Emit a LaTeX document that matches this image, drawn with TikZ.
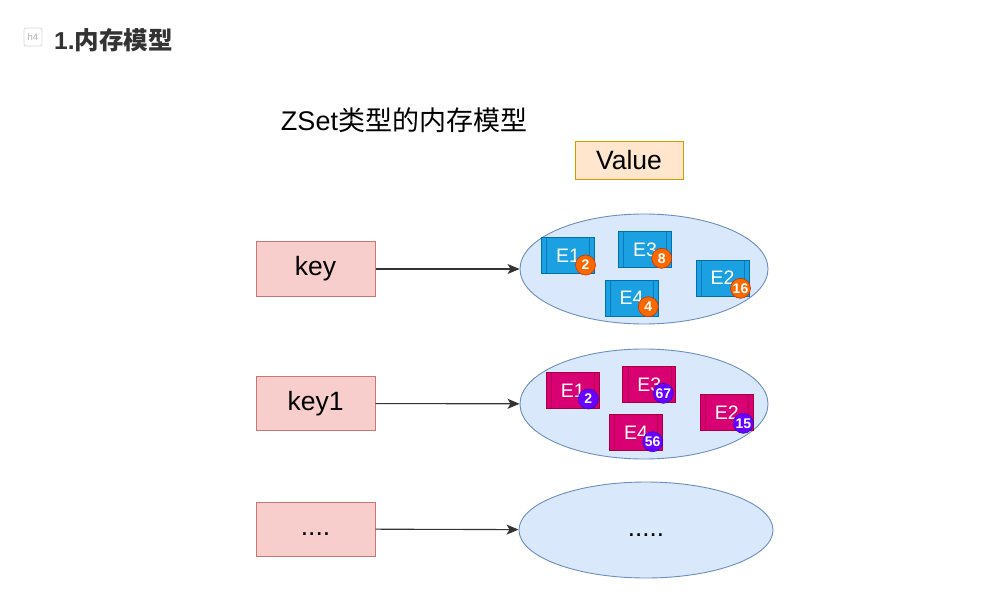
\documentclass[tikz,border=0pt]{standalone}
\usepackage{fontspec}
\setmainfont{Liberation Sans}
\newfontfamily\cjk{Noto Sans CJK SC}
\usetikzlibrary{arrows.meta,shapes.geometric,calc}
\definecolor{keyfill}{HTML}{F8CECC}
\definecolor{keydraw}{HTML}{B85450}
\definecolor{elfill}{HTML}{DAE8FC}
\definecolor{eldraw}{HTML}{6C8EBF}
\definecolor{valfill}{HTML}{FFE6CC}
\definecolor{valdraw}{HTML}{D79B00}
\definecolor{bluefill}{HTML}{1BA1E2}
\definecolor{bluedraw}{HTML}{006EAF}
\definecolor{magfill}{HTML}{D80073}
\definecolor{magdraw}{HTML}{A50040}
\definecolor{orgfill}{HTML}{FA6800}
\definecolor{orgdraw}{HTML}{C73500}
\definecolor{purfill}{HTML}{6A00FF}
\definecolor{purdraw}{HTML}{3700CC}
\definecolor{hdr}{HTML}{333333}
\tikzset{
  keybox/.style={rectangle, draw=keydraw!80, fill=keyfill, line width=1pt, minimum width=119pt, minimum height=54pt, inner sep=0pt, font=\fontsize{26.5}{30}\selectfont},
  setell/.style={ellipse, draw=eldraw, fill=elfill, line width=0.9pt, inner sep=0pt},
  proc/.style={rectangle, draw=#1draw, fill=#1fill, line width=0.7pt, minimum width=53pt, minimum height=36pt, inner sep=0pt, text=white, font=\fontsize{19.5}{21}\selectfont,
    path picture={\draw[#1draw!70!#1fill, line width=0.5pt] ([xshift=5pt]path picture bounding box.north west) -- ([xshift=5pt]path picture bounding box.south west);
      \draw[#1draw!70!#1fill, line width=0.5pt] ([xshift=-5pt]path picture bounding box.north east) -- ([xshift=-5pt]path picture bounding box.south east);}},
  badge/.style={circle, draw=#1draw, fill=#1fill, line width=0.6pt, minimum size=20pt, inner sep=0pt, text=white, font=\fontsize{14}{15}\selectfont\bfseries},
  link/.style={draw=black!80, line width=1.1pt, -{Stealth[length=12pt,width=10pt,inset=3pt]}},
}
\begin{document}
\begin{tikzpicture}[x=1pt,y=-1pt]
\useasboundingbox[fill=white] (0,0) rectangle (982,612);
% header
\node[draw=black!15, fill=white, rounded corners=2pt, line width=0.8pt, minimum width=18pt, minimum height=18pt, inner sep=0pt, text=black!30, font=\fontsize{9.5}{10}\selectfont] (h4) at (33,37) {h4};
\node[anchor=west, inner sep=0pt, text=hdr, font=\fontsize{24.5}{28}\selectfont\bfseries] (hd) at (54,40) {1.{\cjk\bfseries 内存模型}};
% title
\node[inner sep=0pt, font=\fontsize{27}{30}\selectfont] (title) at (404,120) {ZSet{\cjk 类型的内存模型}};
\node[rectangle, draw=valdraw, fill=valfill, line width=0.9pt, minimum width=108pt, minimum height=38pt, inner sep=0pt, font=\fontsize{26.5}{30}\selectfont] (val) at (629,160) {Value};
% keys
\node[keybox] (k0) at (315.5,269) {key};
\node[keybox] (k1) at (315.5,403.5) {key1\vphantom{y}};
\node[keybox] (k2) at (315.5,529) {....\vphantom{ky}};
% sets
\node[setell, minimum width=248pt, minimum height=110pt] (s0) at (644,269) {};
\node[setell, minimum width=248pt, minimum height=110pt] (s1) at (644,404) {};
\node[setell, minimum width=254pt, minimum height=96pt, font=\fontsize{26}{30}\selectfont] (s2) at (646,530) {.....\vphantom{ky}};
% arrows
\draw[link] (k0) -- (s0);
\draw[link] (k1) -- (s1);
\draw[link] (k2) -- (s2);
% set 1 elements
\node[proc=blue] (a1) at (568,255.5) {E1};
\node[proc=blue] (a3) at (645,249.5) {E3};
\node[proc=blue] (a2) at (722.5,278) {E2};
\node[proc=blue] (a4) at (631.5,298) {E4};
\node[badge=org] (ba1) at ([shift={(17.5,9.5)}]a1.center) {2};
\node[badge=org] (ba3) at ([shift={(16.7,8.8)}]a3.center) {8};
\node[badge=org] (ba2) at ([shift={(18,10.3)}]a2.center) {16};
\node[badge=org] (ba4) at ([shift={(16.8,8.7)}]a4.center) {4};
% set 2 elements
\node[proc=mag] (m1) at (572.7,390.3) {E1};
\node[proc=mag] (m3) at (649.3,384.5) {E3};
\node[proc=mag] (m2) at (726.7,412.8) {E2};
\node[proc=mag] (m4) at (636,432.5) {E4};
\node[badge=pur] (bm1) at ([shift={(15.6,8.7)}]m1.center) {2};
\node[badge=pur] (bm3) at ([shift={(14,8.8)}]m3.center) {67};
\node[badge=pur] (bm2) at ([shift={(16.6,10.5)}]m2.center) {15};
\node[badge=pur] (bm4) at ([shift={(16.7,9.2)}]m4.center) {56};
\end{tikzpicture}
\end{document}
